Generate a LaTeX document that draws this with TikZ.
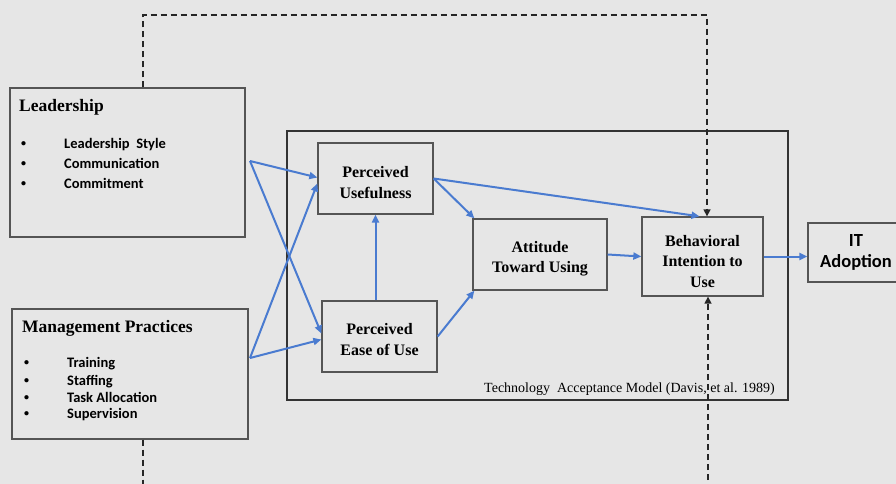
\documentclass[tikz,border=0pt]{standalone}
\usepackage{fontspec}
\setmainfont{Liberation Serif}
\newfontfamily\itemfont{Carlito}
\usetikzlibrary{arrows.meta}
\definecolor{bg}{HTML}{E6E6E6}
\definecolor{boxline}{HTML}{555555}
\definecolor{flow}{HTML}{4A7BD0}
\newcommand{\listdot}{\makebox[43pt][l]{\raisebox{1.5pt}{\fontsize{10}{10}\selectfont•}}}

\begin{document}
\begin{tikzpicture}[x=1pt,y=-1pt,
  box/.style={draw=boxline, line width=1.3pt, inner sep=0pt},
  conceptlabel/.style={inner sep=0pt, font=\fontsize{16}{20.5}\selectfont\bfseries, align=center},
  grouptitle/.style={anchor=base west, inner sep=0pt, font=\fontsize{17.5}{19}\selectfont\bfseries},
  listitem/.style={anchor=base west, inner sep=0pt, font=\itemfont\bfseries\fontsize{14.5}{16}\selectfont},
  flowarrow/.style={draw=flow, line width=2pt, -{Triangle[length=8pt,width=7pt]}},
  link/.style={draw=black!85, line width=1.5pt, dash pattern=on 6pt off 4pt},
  linkarrow/.style={link, -{Triangle[length=7pt,width=7pt]}},
]
\useasboundingbox (0,0) rectangle (896,484);
\clip (0,0) rectangle (896,484);
\fill[bg] (0,0) rectangle (896,484);

% ---- external factors ----
\node[box, minimum width=235pt, minimum height=149pt] (lead) at (127.5,162.5) {};
\node[grouptitle] (leadtitle) at (19,111) {Leadership};
\node[listitem] (lead1) at (21,148) {\listdot Leadership\ \ Style};
\node[listitem] (lead2) at (21,168) {\listdot Communication};
\node[listitem] (lead3) at (21,188) {\listdot Commitment};

\node[box, minimum width=236pt, minimum height=130pt] (mgmt) at (130,374) {};
\node[grouptitle] (mgmttitle) at (22,332) {Management Practices};
\node[listitem] (mgmt1) at (24,367) {\listdot Training};
\node[listitem] (mgmt2) at (24,385) {\listdot Staffing};
\node[listitem] (mgmt3) at (24,402) {\listdot Task Allocation};
\node[listitem] (mgmt4) at (24,418) {\listdot Supervision};

% ---- technology acceptance model ----
\node[draw=black!80, line width=2pt, inner sep=0pt,
      minimum width=501pt, minimum height=269pt] (tam) at (537.5,265.5) {};
\node[anchor=base east, inner sep=0pt, font=\fontsize{14}{16}\selectfont] (tamcap)
  at (775,392) {Technology\ \ Acceptance Model (Davis, et al. 1989)};

\node[box, minimum width=115pt, minimum height=71pt] (pu) at (375.5,178.5) {};
\node[conceptlabel] (putext) at ([yshift=-4pt]pu.center) {Perceived\\Usefulness};
\node[box, minimum width=115pt, minimum height=71pt] (peou) at (379.5,336.5) {};
\node[conceptlabel] (peoutext) at ([yshift=-3pt]peou.center) {Perceived\\Ease of Use};
\node[box, minimum width=134pt, minimum height=71pt] (atu) at (540,254.5) {};
\node[conceptlabel] (atutext) at ([yshift=-4pt]atu.center) {Attitude\\Toward Using};
\node[box, minimum width=121pt, minimum height=79pt] (bi) at (702.5,256.5) {};
\node[conceptlabel] (bitext) at ([yshift=-5pt]bi.center) {Behavioral\\Intention to\\Use};
\node[box, minimum width=96pt, minimum height=59pt, align=center,
      font=\itemfont\bfseries\fontsize{18.5}{21}\selectfont] (it) at (856,252.5) {IT\\Adoption};

% ---- solid flows ----
\coordinate (ls) at (250,161);
\coordinate (ms) at (250,358);
\draw[flowarrow] (ls) -- ([yshift=1pt]pu.west);
\draw[flowarrow] (ls) -- ([yshift=3pt]peou.west);
\draw[flowarrow] (ms) -- ([yshift=-5pt]pu.west);
\draw[flowarrow] (ms) -- ([yshift=-3pt]peou.west);
\draw[flowarrow] (pu.south |- peou.north) -- (pu.south);
\draw[flowarrow] (pu.east) -- ([xshift=2pt]atu.north west);
\draw[flowarrow] (pu.east) -- ([xshift=-3pt]bi.north);
\draw[flowarrow] (peou.east) -- ([xshift=2pt]atu.south west);
\draw[flowarrow] (atu.east) -- (bi.west);
\draw[flowarrow] (bi.east) -- (bi.east -| it.west);

% ---- dashed moderating links ----
\coordinate (topL) at (143,15);
\coordinate (topR) at (707,15);
\coordinate (botL) at (143,490);
\coordinate (botR) at (708,490);
\draw[linkarrow] (topL |- lead.north) -- (topL) -- (topR) -- (topR |- bi.north);
\draw[link] (botL |- mgmt.south) -- (botL);
\draw[linkarrow] (botR) -- (botR |- bi.south);
\end{tikzpicture}
\end{document}
